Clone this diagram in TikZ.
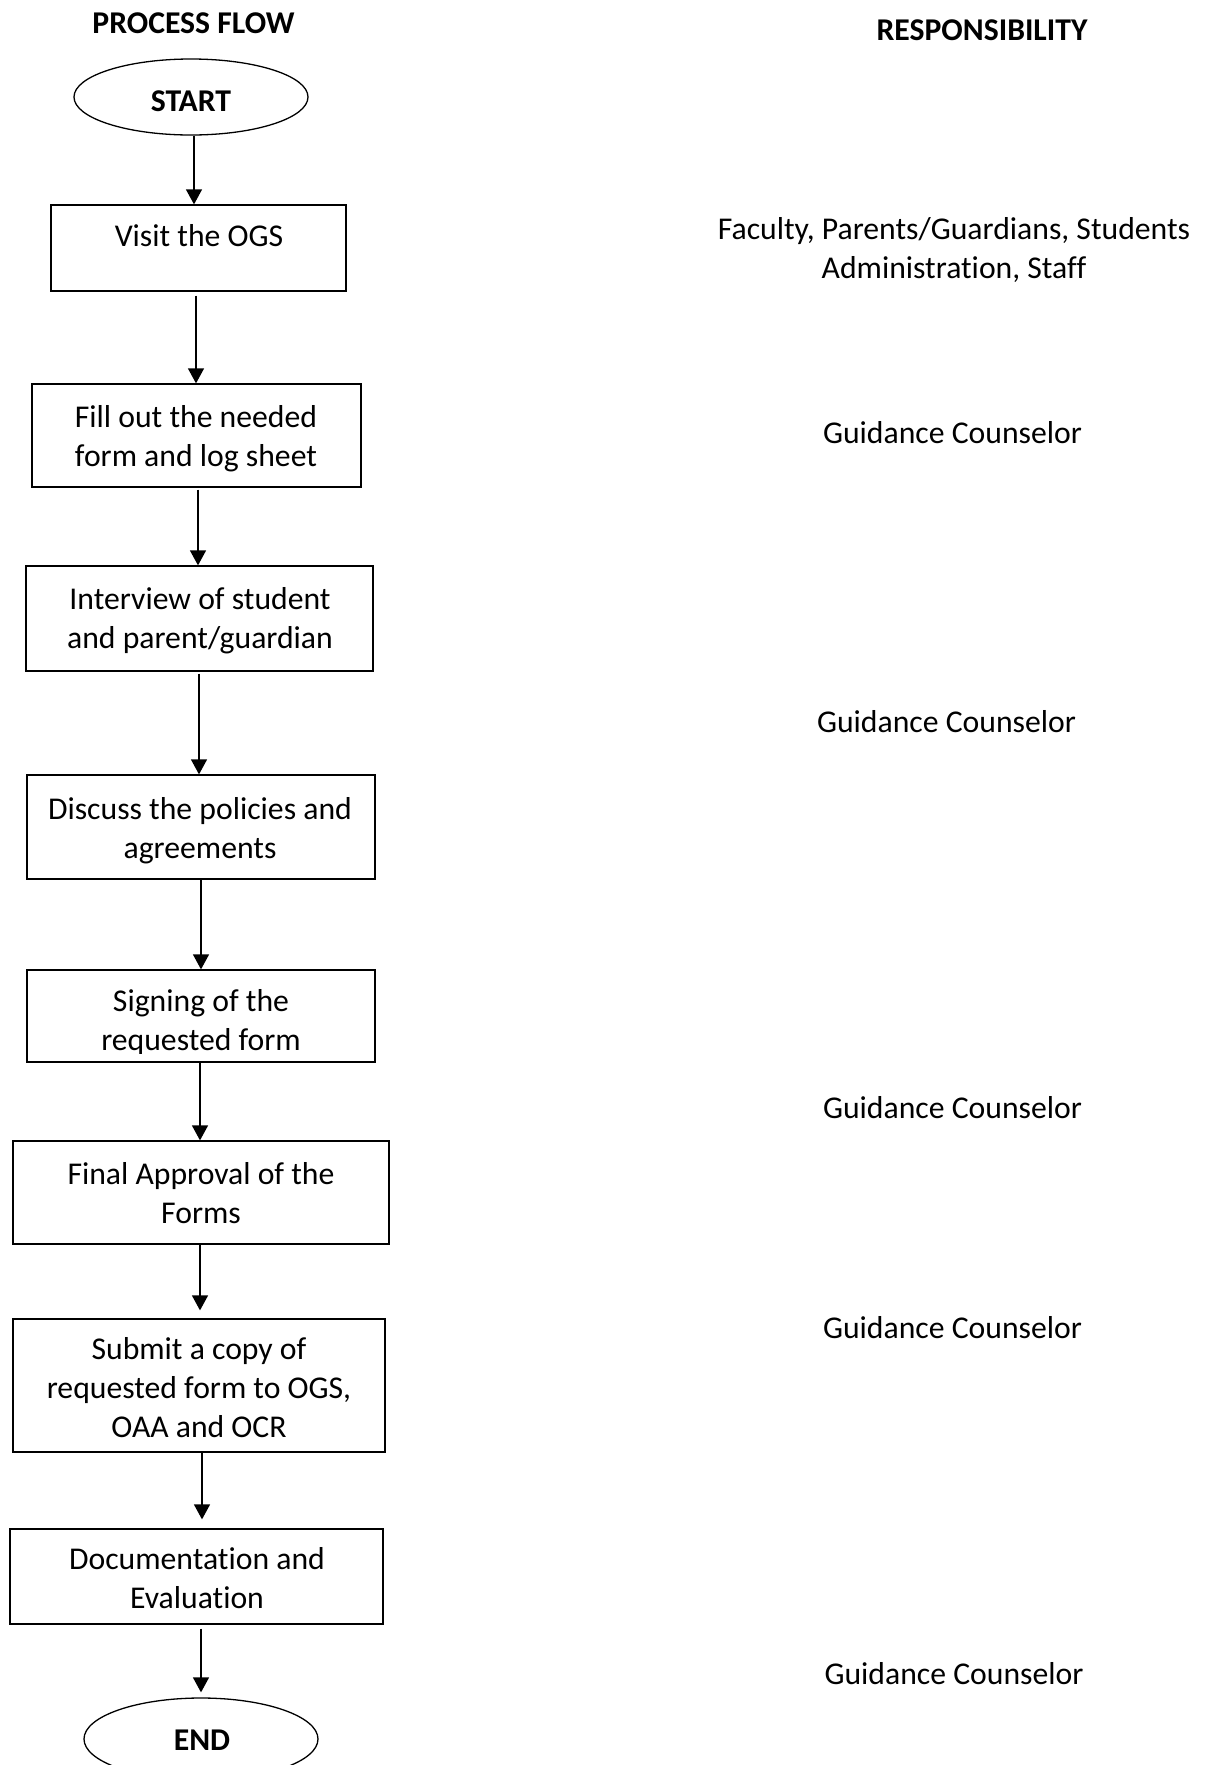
\documentclass[tikz,border=0pt]{standalone}
\usepackage{fontspec}
\setmainfont{Carlito}[Ligatures={NoCommon}]
\usetikzlibrary{arrows.meta,shapes.geometric}
\begin{document}
\begin{tikzpicture}[x=1pt,y=-1pt,
  box/.style={draw, line width=1.3pt, inner sep=0pt},
  term/.style={draw, ellipse, line width=1.3pt, inner sep=0pt, minimum width=234pt},
  lbl/.style={font=\fontsize{31.7}{38.7}\selectfont, align=center, inner sep=0pt, anchor=base},
  head/.style={lbl, font=\fontsize{31.7}{38.7}\selectfont\bfseries},
  flow/.style={line width=1.3pt, -{Triangle[length=15pt,width=16pt]}}
]
\useasboundingbox (0,0) rectangle (1209,1765);

% column headings
\node[head] (hpf) at (193.5,33) {PROCESS FLOW};
\node[head] (hresp) at (982,40) {RESPONSIBILITY};

% terminals
\node[term, minimum height=76pt] (start) at (191,97) {};
\node[head] (tstart) at (191,111) {START};
\node[term, minimum height=82pt] (end) at (201,1739) {};
\node[head] (tend) at (202,1750) {END};

% process boxes
\node[box, minimum width=295pt, minimum height=86pt]  (b1) at (198.5,248) {};
\node[box, minimum width=329pt, minimum height=103pt] (b2) at (196.5,435.5) {};
\node[box, minimum width=347pt, minimum height=105pt] (b3) at (199.5,618.5) {};
\node[box, minimum width=348pt, minimum height=104pt] (b4) at (201,827) {};
\node[box, minimum width=348pt, minimum height=92pt]  (b5) at (201,1016) {};
\node[box, minimum width=376pt, minimum height=103pt] (b6) at (201,1192.5) {};
\node[box, minimum width=372pt, minimum height=133pt] (b7) at (199,1385.5) {};
\node[box, minimum width=373pt, minimum height=95pt]  (b8) at (196.5,1576.5) {};

% box texts (anchored on the baseline of the last line)
\node[lbl] (t1) at (199,246) {Visit the OGS};
\node[lbl] (t2) at (196,466) {Fill out the needed\\form and log sheet};
\node[lbl] (t3) at (200,648) {Interview of student\\and parent/guardian};
\node[lbl] (t4) at (200,858) {Discuss the policies and\\agreements};
\begin{scope}
  \clip (0,960) rectangle (400,1053);
  \node[lbl] (t5) at (201,1050) {Signing of the\\requested form};
\end{scope}
\node[lbl] (t6) at (201,1223) {Final Approval of the\\Forms};
\node[lbl] (t7) at (199,1437) {Submit a copy of\\requested form to OGS,\\OAA and OCR};
\node[lbl] (t8) at (197,1608) {Documentation and\\Evaluation};

% responsibilities
\node[lbl] (r0) at (954,278) {Faculty, Parents/Guardians, Students\\Administration, Staff};
\node[lbl] (r1) at (952.5,443) {Guidance Counselor};
\node[lbl] (r2) at (946.5,732) {Guidance Counselor};
\node[lbl] (r3) at (952.5,1118) {Guidance Counselor};
\node[lbl] (r4) at (952.5,1338) {Guidance Counselor};
\node[lbl] (r5) at (954,1684) {Guidance Counselor};

% connector columns
\coordinate (x1) at (194,0);
\coordinate (x2) at (196,0);
\coordinate (x3) at (198,0);
\coordinate (x4) at (199,0);
\coordinate (x5) at (201,0);
\coordinate (x6) at (200,0);
\coordinate (x7) at (200,0);
\coordinate (x8) at (202,0);
\coordinate (x9) at (201,0);

% connectors
\draw[flow] (start.south -| x1) -- (b1.north -| x1);
\draw[flow, shorten <=4pt] (b1.south -| x2) -- (b2.north -| x2);
\draw[flow, shorten <=2pt] (b2.south -| x3) -- (b3.north -| x3);
\draw[flow, shorten <=2pt] (b3.south -| x4) -- (b4.north -| x4);
\draw[flow] (b4.south -| x5) -- (b5.north -| x5);
\draw[flow] (b5.south -| x6) -- (b6.north -| x6);
\draw[flow, shorten >=8pt] (b6.south -| x7) -- (b7.north -| x7);
\draw[flow, shorten >=9pt] (b7.south -| x8) -- (b8.north -| x8);
\draw[flow, shorten <=4pt, shorten >=5pt] (b8.south -| x9) -- (end.north -| x9);
\end{tikzpicture}
\end{document}
